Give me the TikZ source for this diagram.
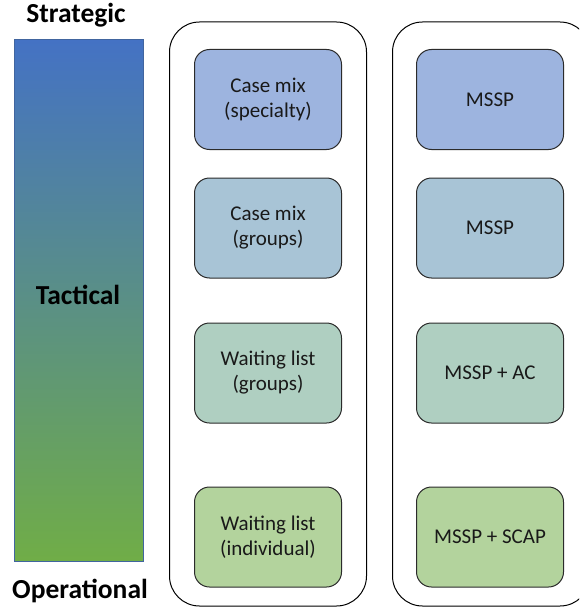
\documentclass[tikz,border=0pt]{standalone}
\usepackage{fontspec}
\setmainfont{Carlito}
\definecolor{topblue}{HTML}{4472C4}
\definecolor{botgreen}{HTML}{70AD47}
\definecolor{barline}{HTML}{41659F}
\definecolor{fillA}{HTML}{9DB4DF}
\definecolor{fillB}{HTML}{A8C4D6}
\definecolor{fillC}{HTML}{AFCFC1}
\definecolor{fillD}{HTML}{B3D39D}
\definecolor{boxline}{HTML}{2B2B2B}
\begin{document}
\begin{tikzpicture}[x=1pt,y=-1pt,
  levelbox/.style={draw=boxline, line width=1pt, rounded corners=15pt,
    minimum width=147pt, minimum height=100pt, inner sep=0pt,
    align=center, text=black!90, font=\fontsize{21}{25}\selectfont},
  column/.style={draw=black, line width=1pt, rounded corners=30pt},
  levelname/.style={anchor=base, font=\fontsize{27.5}{32}\selectfont\bfseries}]
\useasboundingbox (0,0) rectangle (579,607);
\clip (0,0) rectangle (579,607);

% planning-level scale bar
\node[draw=barline, line width=0.8pt, top color=topblue, bottom color=botgreen,
  minimum width=128.7pt, minimum height=521.5pt, inner sep=0pt] (scalebar) at (78.7,300.3) {};
\node[levelname] (strategic) at (76,23) {Strategic};
\node[levelname] (tactical) at (78,304) {Tactical};
\node[levelname] (operational) at (80,598) {Operational};

% the two column frames
\draw[column] (169.5,22) rectangle (366.5,606);
\draw[column] (392.5,22) rectangle (590,606);

% problem column
\node[levelbox, fill=fillA] (pA) at (268,99.5) {Case mix\\(specialty)};
\node[levelbox, fill=fillB] (pB) at (268,228) {Case mix\\(groups)};
\node[levelbox, fill=fillC] (pC) at (268,373) {Waiting list\\(groups)};
\node[levelbox, fill=fillD] (pD) at (268,537) {Waiting list\\(individual)};

% model column
\node[levelbox, fill=fillA] (mA) at (490,99.5) {MSSP};
\node[levelbox, fill=fillB] (mB) at (490,228) {MSSP};
\node[levelbox, fill=fillC] (mC) at (490,373) {MSSP + AC};
\node[levelbox, fill=fillD] (mD) at (490,537) {MSSP + SCAP};
\end{tikzpicture}
\end{document}
